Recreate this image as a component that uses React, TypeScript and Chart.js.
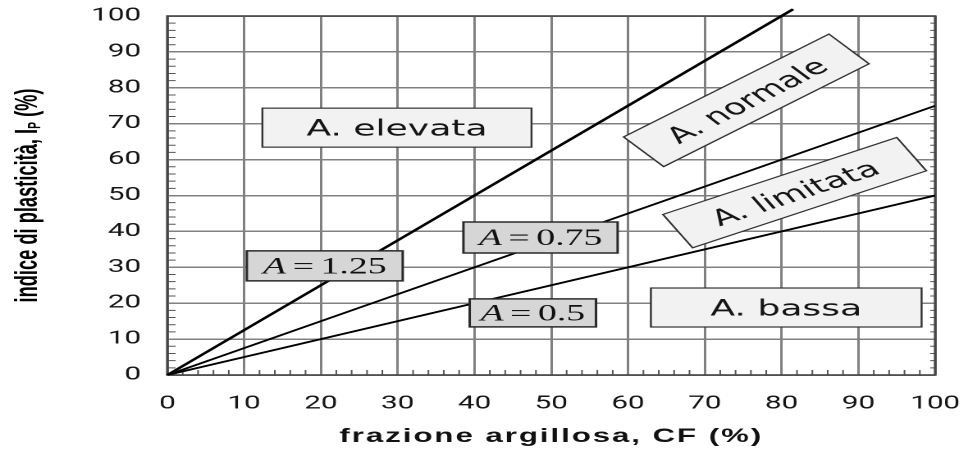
import { useEffect, useRef } from 'react';
import { Chart, registerables } from 'chart.js';

Chart.register(...registerables);

// Axis tick labels (%)
const CF_TICKS = [0, 10, 20, 30, 40, 50, 60, 70, 80, 90, 100];
const IP_TICKS = [0, 10, 20, 30, 40, 50, 60, 70, 80, 90, 100];

// Activity lines Ip = A · CF (end points of each line)
const ACTIVITY = [1.25, 0.75, 0.5];
const CF_A125 = [0, 81.5];
const IP_A125 = [0, 101.9];
const CF_A075 = [0, 100];
const IP_A075 = [0, 75];
const CF_A050 = [0, 100];
const IP_A050 = [0, 50];

// Activity classes
const ZONE_NAMES = ['A. elevata', 'A. normale', 'A. limitata', 'A. bassa'];

// Drawing surface: the figure is drawn narrow and widened on screen
const LOGICAL_W = 590;
const LOGICAL_H = 450;
const SCREEN_W = 968;

// Placement of the class boxes (axis units) and their tilt in degrees
const ZONE_LAYOUT = [
  { cf: 29.9, ip: 68.9, tilt: 0, w: 164, h: 39 },
  { cf: 75.4, ip: 76.5, tilt: 39.4, w: 162, h: 38.5 },
  { cf: 81.7, ip: 50.8, tilt: 28.4, w: 162, h: 38 },
  { cf: 80.6, ip: 18.8, tilt: 0, w: 165, h: 39 },
];

// Placement of the "A = ..." boxes (axis units)
const ACTIVITY_LAYOUT = [
  { cf: 20.5, ip: 30.4, w: 95, h: 30 },
  { cf: 48.6, ip: 38.3, w: 94, h: 31 },
  { cf: 47.6, ip: 17.3, w: 77, h: 28 },
];

const SANS = '"Liberation Sans", Arial, Helvetica, sans-serif';
const TICK_SANS = 'Roboto, "Noto Sans", sans-serif';
const LABEL_SANS = '"DejaVu Sans", Verdana, sans-serif';
const SERIF = '"Liberation Serif", "Times New Roman", serif';

const gridExtras = {
  id: 'gridExtras',
  beforeDatasetsDraw(chart: any) {
    const { ctx, chartArea } = chart;
    const { left, right, top, bottom } = chartArea;
    const xs = chart.scales.x;
    const ys = chart.scales.y;
    ctx.save();
    ctx.strokeStyle = '#555';
    ctx.lineWidth = 1;
    ctx.beginPath();
    for (let v = 2; v < 100; v += 2) {
      if (v % 10 === 0) continue;
      const px = xs.getPixelForValue(v);
      ctx.moveTo(px, bottom);
      ctx.lineTo(px, bottom - 5);
      const py = ys.getPixelForValue(v);
      ctx.moveTo(left, py);
      ctx.lineTo(left + 5, py);
      ctx.moveTo(right, py);
      ctx.lineTo(right - 3, py);
    }
    ctx.stroke();
    ctx.strokeStyle = '#454545';
    ctx.lineWidth = 1.6;
    ctx.strokeRect(left, top, right - left, bottom - top);
    ctx.restore();
  },
};

const labelBoxes = {
  id: 'labelBoxes',
  afterDatasetsDraw(chart: any) {
    const { ctx } = chart;
    const xs = chart.scales.x;
    const ys = chart.scales.y;

    // class boxes
    ZONE_NAMES.forEach((name, i) => {
      const lay = ZONE_LAYOUT[i];
      const cx = xs.getPixelForValue(lay.cf);
      const cy = ys.getPixelForValue(lay.ip);
      ctx.save();
      ctx.translate(cx, cy);
      ctx.rotate((-lay.tilt * Math.PI) / 180);
      ctx.fillStyle = '#f2f2f2';
      ctx.fillRect(-lay.w / 2, -lay.h / 2, lay.w, lay.h);
      ctx.strokeStyle = '#333';
      ctx.lineWidth = 1.2;
      ctx.strokeRect(-lay.w / 2, -lay.h / 2, lay.w, lay.h);
      ctx.fillStyle = '#151515';
      ctx.font = `22px ${LABEL_SANS}`;
      ctx.textAlign = 'center';
      ctx.textBaseline = 'alphabetic';
      ctx.fillText(name, 0, 8);
      ctx.restore();
    });

    // activity value boxes
    ACTIVITY.forEach((a, i) => {
      const lay = ACTIVITY_LAYOUT[i];
      const cx = xs.getPixelForValue(lay.cf);
      const cy = ys.getPixelForValue(lay.ip);
      ctx.save();
      ctx.fillStyle = '#d6d6d6';
      ctx.fillRect(cx - lay.w / 2, cy - lay.h / 2, lay.w, lay.h);
      ctx.strokeStyle = '#2a2a2a';
      ctx.lineWidth = 1.5;
      ctx.strokeRect(cx - lay.w / 2, cy - lay.h / 2, lay.w, lay.h);

      const num = String(a);
      const italic = `italic 23px ${SERIF}`;
      const upright = `23px ${SERIF}`;
      ctx.font = italic;
      const wA = ctx.measureText('A').width;
      ctx.font = upright;
      const wEq = ctx.measureText('=').width;
      const wN = ctx.measureText(num).width;
      const gap = 4;
      const total = wA + gap + wEq + gap + wN;
      let x = cx - total / 2;
      const base = cy + 7.6;
      ctx.fillStyle = '#111';
      ctx.textAlign = 'left';
      ctx.textBaseline = 'alphabetic';
      ctx.font = italic;
      ctx.fillText('A', x, base);
      x += wA + gap;
      ctx.font = upright;
      ctx.fillText('=', x, base);
      x += wEq + gap;
      ctx.fillText(num, x, base);
      ctx.restore();
    });
  },
};

const axisTitles = {
  id: 'axisTitles',
  afterDraw(chart: any) {
    const { ctx, chartArea } = chart;
    const { left, right, top, bottom } = chartArea;
    ctx.save();
    ctx.fillStyle = '#111';

    // x title
    ctx.font = `bold 19px ${SANS}`;
    (ctx as any).letterSpacing = '1.2px';
    ctx.textAlign = 'center';
    ctx.textBaseline = 'middle';
    ctx.fillText('frazione argillosa, CF (%)', (left + right) / 2, 437);
    (ctx as any).letterSpacing = '0px';

    // y title with subscript, condensed along its length
    ctx.fillStyle = '#000';
    ctx.translate(17, (top + bottom) / 2);
    ctx.rotate(-Math.PI / 2);
    const big = `bold 19.5px ${SANS}`;
    const small = `bold 11px ${SANS}`;
    const parts = [
      { t: 'indice di plasticità, I', f: big, dy: 0 },
      { t: 'P', f: small, dy: 4.5 },
      { t: ' (%)', f: big, dy: 0 },
    ];
    let total = 0;
    const widths = parts.map((p) => {
      ctx.font = p.f;
      const w = ctx.measureText(p.t).width;
      total += w;
      return w;
    });
    const span = 214;
    ctx.scale(span / total, 1);
    let x = -total / 2;
    ctx.textAlign = 'left';
    ctx.textBaseline = 'middle';
    parts.forEach((p, i) => {
      ctx.font = p.f;
      ctx.fillText(p.t, x, p.dy);
      x += widths[i];
    });
    ctx.restore();
  },
};

function toPoints(xs: number[], ys: number[]) {
  return xs.map((x, i) => ({ x, y: ys[i] }));
}

function noScalePadding(scale: any) {
  scale.paddingLeft = 0;
  scale.paddingRight = 0;
  scale.paddingTop = 0;
  scale.paddingBottom = 0;
}

export default function App() {
  const ref = useRef<HTMLCanvasElement>(null);

  useEffect(() => {
    const canvas = ref.current;
    if (!canvas) return;
    const chart = new Chart(canvas, {
      type: 'scatter',
      data: {
        datasets: [
          {
            label: `A=${ACTIVITY[0]}`,
            data: toPoints(CF_A125, IP_A125),
            showLine: true,
            borderColor: '#000',
            borderWidth: 2.2,
            pointRadius: 0,
            clip: false as any,
          },
          {
            label: `A=${ACTIVITY[1]}`,
            data: toPoints(CF_A075, IP_A075),
            showLine: true,
            borderColor: '#000',
            borderWidth: 1.8,
            pointRadius: 0,
          },
          {
            label: `A=${ACTIVITY[2]}`,
            data: toPoints(CF_A050, IP_A050),
            showLine: true,
            borderColor: '#000',
            borderWidth: 1.8,
            pointRadius: 0,
          },
        ],
      },
      options: {
        responsive: false,
        animation: false,
        devicePixelRatio: 2,
        layout: { padding: { left: 0, top: 16, right: 20, bottom: 0 } },
        plugins: {
          legend: { display: false },
          tooltip: { enabled: false },
        },
        scales: {
          x: {
            type: 'linear',
            min: 0,
            max: 100,
            afterBuildTicks: (scale: any) => {
              scale.ticks = CF_TICKS.map((v) => ({ value: v }));
            },
            afterFit: (scale: any) => {
              scale.height = 75;
              noScalePadding(scale);
            },
            ticks: {
              color: '#151515',
              font: { family: TICK_SANS, size: 18 },
              padding: 18,
              maxRotation: 0,
              autoSkip: false,
            },
            grid: { color: '#808080', lineWidth: 1.5, drawTicks: false },
            border: { display: false },
          },
          y: {
            type: 'linear',
            min: 0,
            max: 100,
            afterBuildTicks: (scale: any) => {
              scale.ticks = IP_TICKS.map((v) => ({ value: v }));
            },
            afterFit: (scale: any) => {
              scale.width = 102;
              noScalePadding(scale);
            },
            ticks: {
              color: '#151515',
              font: { family: TICK_SANS, size: 18 },
              padding: 16,
              autoSkip: false,
            },
            grid: { color: '#808080', lineWidth: 1.5, drawTicks: false },
            border: { display: false },
          },
        },
      },
      plugins: [gridExtras, labelBoxes, axisTitles],
    });
    return () => chart.destroy();
  }, []);

  return (
    <div
      style={{
        position: 'absolute',
        left: 0,
        top: 0,
        width: SCREEN_W,
        height: LOGICAL_H,
        background: '#fff',
      }}
    >
      <canvas
        ref={ref}
        width={LOGICAL_W}
        height={LOGICAL_H}
        style={{ width: `${SCREEN_W}px`, height: `${LOGICAL_H}px`, display: 'block' }}
      />
    </div>
  );
}
